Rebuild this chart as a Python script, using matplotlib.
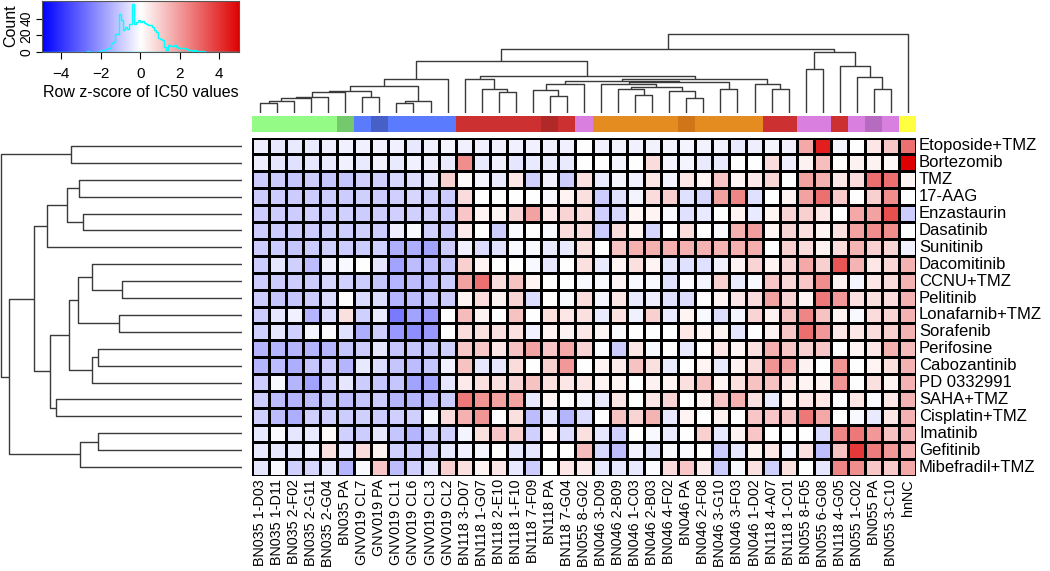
import numpy as np
import matplotlib
matplotlib.use("Agg")
import matplotlib.pyplot as plt
from matplotlib.colors import LinearSegmentedColormap

plt.rcParams['font.family'] = ['Liberation Sans', 'DejaVu Sans']

drugs = ["Etoposide+TMZ", "Bortezomib", "TMZ", "17-AAG", "Enzastaurin", "Dasatinib",
         "Sunitinib", "Dacomitinib", "CCNU+TMZ", "Pelitinib", "Lonafarnib+TMZ", "Sorafenib",
         "Perifosine", "Cabozantinib", "PD 0332991", "SAHA+TMZ", "Cisplatin+TMZ", "Imatinib",
         "Gefitinib", "Mibefradil+TMZ"]

samples = ["BN035 1-D03", "BN035 1-D11", "BN035 2-F02", "BN035 2-G11", "BN035 2-G04", "BN035 PA",
           "GNV019 CL7", "GNV019 PA", "GNV019 CL1", "GNV019 CL6", "GNV019 CL3", "GNV019 CL2",
           "BN118 3-D07", "BN118 1-G07", "BN118 2-E10", "BN118 1-F10", "BN118 7-F09", "BN118 PA",
           "BN118 7-G04", "BN055 8-G02", "BN046 3-D09", "BN046 2-B09", "BN046 1-C03", "BN046 2-B03",
           "BN046 4-F02", "BN046 PA", "BN046 2-F08", "BN046 3-G10", "BN046 3-F03", "BN046 1-D02",
           "BN118 4-A07", "BN118 1-C01", "BN055 8-F05", "BN055 6-G08", "BN118 4-G05", "BN055 1-C02",
           "BN055 PA", "BN055 3-C10", "hnNC"]

side_colors = ["#94fb87"] * 5 + ["#73c96b"] + ["#5b7bff", "#4660c8"] + ["#5b7bff"] * 4 + \
              ["#cc3030"] * 5 + ["#b02828", "#cc3030", "#d97fe0"] + ["#e58c20"] * 5 + ["#d07518"] + \
              ["#e58c20"] * 4 + ["#cc3030"] * 2 + ["#d97fe0"] * 2 + ["#cc3030", "#d97fe0", "#b56bc0", "#d97fe0", "#ffff40"]

z_etoposide = [-0.35, -0.45, -0.4, -0.4, -0.35, -0.3, -0.3, -0.3, -0.3, -0.45, -0.3, -0.2, -0.3,
               -0.3, -0.3, -0.3, -0.3, -0.3, -0.3, 0.0, -0.3, -0.25, -0.3, -0.25, -0.2,
               -0.2, -0.25, -0.25, -0.4, -0.35, -0.2, -0.3, 1.7, 4.4, -0.2, 0.0, 0.5, 1.1, 2.8]
z_bortezomib = [-0.35, -0.5, -0.6, -0.5, -0.4, -0.3, -0.4, -0.3, -0.4, -0.3, -0.35, -0.4, 2.2,
                -0.4, -0.3, -0.5, -0.4, -0.4, -0.4, 0.0, 0.0, -0.2, 0.0, 0.7, -0.2,
                -0.2, -0.4, -0.4, 0.0, 0.0, 0.7, -0.35, 0.25, 1.25, 0.0, 0.25, 0.25, 0.15, 5.0]
z_tmz = [-1.0, -1.0, -1.1, -1.0, -1.1, -1.1, -0.9, -0.9, -0.8, -0.7, -0.5, 0.9, 0.1,
         -0.2, -0.4, 0.5, -0.9, -0.3, -1.0, 0.6, -0.4, -0.2, -0.3, 0.5, -0.2,
         0.5, 0.2, 1.1, 0.2, 0.4, 0.85, 0.0, 1.8, 1.55, 0.5, 0.7, 2.85, 2.85, 0.2]
z_17aag = [-1.0, -1.0, -1.0, -1.0, -1.0, -1.0, -0.9, -1.0, -0.9, -0.8, -0.9, -1.0, 0.7,
           0.0, 0.0, 0.0, 0.0, -0.15, 0.2, 0.6, -1.0, -0.6, -0.2, 0.7, 0.9,
           -0.6, -0.8, 1.8, 2.35, -0.6, 0.0, 0.2, 1.8, 2.8, 1.05, 0.0, 0.9, 2.2, 0.0]
z_enzastaurin = [-1.0, -1.0, -1.0, -0.9, -1.0, -0.9, -1.0, -1.0, -0.9, -0.9, -0.9, -1.0, 1.1,
                 0.2, 0.2, 0.85, 1.8, 0.4, 0.85, 0.7, -0.9, -0.8, 0.2, 0.2, -0.15,
                 -0.6, -0.4, 0.0, 0.2, -0.4, 0.2, 0.85, 0.9, 0.5, 0.0, 1.7, 1.8, 3.4, -1.0]
z_dasatinib = [-1.0, -1.0, -1.0, -1.0, -0.9, -1.0, -0.9, -1.0, -0.35, -0.15, -0.9, -1.0, 0.4,
               0.0, -1.0, -0.15, 0.0, -0.15, 0.7, 0.7, -1.05, 0.7, 0.2, -0.8, 0.0,
               0.7, 0.0, -0.15, 1.55, 1.9, 0.2, 0.85, 0.6, 0.2, 0.6, 1.8, 2.2, 2.2, 0.0]
z_sunitinib = [-1.0, -1.0, -1.1, -1.0, -0.9, -1.0, -1.0, -0.9, -1.6, -1.6, -1.8, -1.0, -0.3,
               -0.7, -0.6, -0.15, -0.15, -0.4, -0.4, 0.6, 0.0, 1.2, 1.55, 1.55, 1.55,
               1.55, 1.5, 1.45, 1.55, 1.6, 0.0, 0.9, 0.7, 0.25, 0.7, 1.45, 0.9, 0.85, -0.3]
z_dacomitinib = [-1.0, -0.5, -0.9, -1.3, -0.3, -0.15, 0.0, -0.5, -1.8, -1.3, -1.3, -1.1, 0.9,
                 0.2, 0.0, 0.0, -0.15, -0.5, 0.0, 0.6, -0.4, 0.2, 0.6, 0.2, -0.5,
                 -0.6, -0.6, -0.3, 0.2, 0.85, 0.2, 0.75, 1.7, 0.9, 3.3, 1.45, 0.5, 0.75, 1.5]
z_ccnu = [-1.0, -1.0, -1.0, -1.0, -0.8, -0.9, -1.0, -1.1, -1.45, -1.3, -1.3, -1.0, 1.8,
          2.8, 0.7, 1.2, 0.2, 0.0, 0.0, -0.15, -0.15, 0.2, -0.15, -0.15, -0.6,
          -0.1, -0.2, 0.9, -0.4, -0.15, 1.1, 0.75, 1.1, 2.2, 0.25, -0.2, 0.5, 0.7, 1.5]
z_pelitinib = [-1.0, -1.1, -1.1, -1.0, -0.7, 0.0, -0.7, -0.7, -1.45, -1.3, -1.1, -1.0, 0.2,
               0.7, 0.25, 0.85, -0.7, 0.0, -0.15, 0.7, -0.2, 0.5, -0.4, -0.35, -0.6,
               -0.7, 0.0, 0.2, 0.5, 0.7, 1.8, 0.85, 0.2, 2.65, 2.0, 0.6, 0.6, 0.7, 1.5]
z_lonafarnib = [-1.0, -0.5, -0.3, -1.45, -0.7, 0.6, -0.9, -0.4, -2.6, -1.8, -2.0, 0.0, 1.3,
                0.25, 0.0, 1.2, 0.0, 0.6, 0.5, 0.6, -0.4, 0.6, -0.3, 0.9, -0.4,
                0.2, -0.15, -0.7, -0.2, 0.85, 0.25, 1.2, 2.35, 1.2, 0.25, -0.15, 0.7, 0.85, 1.5]
z_sorafenib = [-0.9, -0.5, -0.9, -0.2, -0.1, -0.6, -1.6, -1.0, -2.0, -2.2, -2.0, 0.0, 0.7,
               0.6, 0.6, 0.6, -0.3, 0.2, 0.25, 0.5, 0.2, -0.15, 0.0, 0.0, 0.0,
               0.5, 0.2, 0.2, -0.5, 0.0, 0.25, 1.1, 2.85, 2.0, 0.5, 0.5, 0.7, 0.9, 1.5]
z_perifosine = [-1.45, -1.45, -1.45, -1.45, -1.45, -1.1, -1.0, -0.5, -1.1, -1.1, -1.1, -0.9, 1.1,
                1.1, 0.5, 1.2, 1.8, 1.1, 1.7, 0.85, -0.1, -1.0, 0.5, -0.15, 0.0,
                -0.4, 0.0, 0.5, 0.2, 0.6, 1.55, 1.1, 0.9, 1.1, 0.0, 0.2, 0.5, 1.55, 1.3]
z_cabozantinib = [-1.45, -1.3, -1.6, -1.1, -1.0, -1.45, -0.45, -0.7, -1.1, -1.3, -1.1, -0.3, 1.2,
                  -0.5, -0.5, 0.7, 0.0, 0.9, 2.0, 0.0, 0.2, 0.4, 1.2, 0.6, -0.4,
                  0.0, 0.2, -0.4, 0.25, 0.7, 2.1, 1.8, 0.25, 0.0, 2.1, 0.0, 0.2, 0.6, 1.5]
z_pd0332991 = [-1.0, -0.15, -1.45, -1.8, -1.0, -0.5, -1.0, -1.1, -1.1, -1.8, -1.8, -0.5, 0.4,
               0.6, 0.6, 0.85, 1.2, 0.6, 0.5, 0.5, 0.2, 0.2, 0.0, 0.25, 0.2,
               0.6, 1.2, 0.2, 0.6, 1.2, 1.2, 0.5, 0.2, 0.2, 2.1, 0.0, 0.6, 0.2, 1.5]
z_saha = [-1.0, -1.3, -1.45, -1.3, -1.1, -1.3, -1.1, -1.0, -1.45, -1.45, -1.3, -1.0, 2.65,
          2.1, 1.8, 1.8, -0.45, 0.2, 0.0, -0.2, -0.45, 0.5, 0.0, 0.5, 0.85,
          0.0, 0.2, 1.1, 1.55, 0.6, -0.4, 0.2, 0.5, 0.5, 0.0, 0.5, -0.1, 0.5, 1.5]
z_cisplatin = [-0.9, -1.3, -1.6, -0.9, -0.9, -1.0, -0.9, -1.0, -0.9, -0.9, -0.15, 0.7, 1.55,
               2.1, 0.0, 0.6, -1.3, -0.5, -1.45, -0.7, 0.0, 1.2, 0.85, 1.45, -0.45,
               0.2, 0.0, 0.25, 0.0, 1.1, 1.1, 1.1, 2.65, 1.7, 0.0, -0.15, -0.4, 0.5, 1.5]
z_imatinib = [-0.45, -0.1, -0.5, -0.4, 0.1, -0.9, -1.0, -0.5, -1.1, -1.45, -0.9, -0.9, -0.2,
              0.6, 1.1, 0.9, -0.9, 0.2, -0.7, 0.6, -0.5, -0.9, 0.0, -0.15, -0.4,
              0.0, 0.9, -0.45, 0.25, 1.1, 0.0, 0.0, 0.0, -0.7, 2.35, 2.65, 2.0, 1.2, 1.5]
z_gefitinib = [-0.45, -0.5, -0.45, -0.3, 0.6, -0.5, 0.7, 0.25, -0.9, -1.0, -0.9, -0.45, -0.3,
               -0.2, 0.0, -0.45, -0.5, 0.0, 0.0, 1.3, -0.8, -1.3, -0.3, -0.5, -0.15,
               -0.15, 0.0, -1.0, -0.5, 0.25, 0.5, -0.2, 0.6, -1.3, 1.2, 3.9, 2.55, 2.0, 1.5]
z_mibefradil = [-0.5, -0.15, -0.9, -0.8, -0.5, -1.45, -0.15, 1.1, -1.3, -0.9, -0.5, 0.9, 0.6,
                0.2, 0.5, -0.45, -1.0, 0.0, 0.5, 0.4, -0.45, -0.5, -0.45, -0.1, 0.7,
                1.1, 0.4, -1.0, -0.15, 0.6, -0.9, 0.6, 0.0, -0.5, 2.35, 2.2, 1.1, 1.05, 1.7]

# dendrograms: (left child, right child, merge height); leaves 0..n-1, new clusters n, n+1, ...
row_merges = [(0, 1, 171), (2, 3, 163), (4, 5, 159), (21, 22, 175), (23, 6, 195),
              (8, 9, 120), (7, 25, 150), (10, 11, 123), (26, 27, 164), (12, 13, 144),
              (29, 14, 150), (28, 30, 173), (15, 16, 186), (31, 32, 192), (24, 33, 208),
              (17, 18, 144), (35, 19, 162), (34, 36, 233), (20, 37, 241)]
col_merges = [(0, 1, 10.6), (39, 2, 12.6), (40, 3, 15.0), (41, 4, 16.6), (42, 5, 21.6),
              (6, 7, 16.6), (43, 44, 22.6), (8, 9, 10.0), (46, 10, 12.0), (45, 47, 27.6),
              (48, 11, 34.0), (14, 15, 21.6), (13, 50, 24.0), (12, 51, 34.3), (17, 18, 17.3),
              (16, 53, 23.3), (54, 19, 29.0), (22, 23, 18.0), (21, 56, 24.0), (25, 26, 15.0),
              (24, 58, 22.6), (57, 59, 26.6), (20, 60, 29.0), (27, 28, 24.0), (61, 62, 31.0),
              (55, 63, 32.3), (30, 31, 24.0), (29, 65, 29.3), (64, 66, 34.0), (52, 67, 37.5),
              (49, 68, 52.3), (32, 33, 44.0), (36, 37, 24.6), (35, 71, 36.6), (34, 72, 47.6),
              (70, 73, 61.0), (69, 74, 64.0), (75, 38, 79.0)]

hist_start = -2.7
hist_width = 0.1
hist_counts = [1, 0, 0, 0, 0, 0, 1, 2, 2, 3, 4, 4, 10, 12, 22, 22, 46, 38, 26, 30, 28, 34, 34,
               58, 34, 36, 38, 36, 37, 35, 33, 32, 32, 30, 26, 24, 16, 15, 14, 6, 2, 8, 7, 7,
               8, 6, 5, 5, 4, 4, 3, 2, 2, 1, 2, 1, 1, 1, 0, 1, 0]

zscores = np.array([z_etoposide, z_bortezomib, z_tmz, z_17aag, z_enzastaurin, z_dasatinib,
                    z_sunitinib, z_dacomitinib, z_ccnu, z_pelitinib, z_lonafarnib, z_sorafenib,
                    z_perifosine, z_cabozantinib, z_pd0332991, z_saha, z_cisplatin, z_imatinib,
                    z_gefitinib, z_mibefradil])

W, H = 1050, 571
fig = plt.figure(figsize=(W / 100, H / 100), dpi=100)


def ax_px(x0, y0, x1, y1):
    return fig.add_axes([x0 / W, 1 - y1 / H, (x1 - x0) / W, (y1 - y0) / H])


cmap = LinearSegmentedColormap.from_list("bluered", [(0.0, 0.0, 1.0), (1, 1, 1), (0.87, 0.0, 0.0)], N=256)

HX0, HX1, HY0, HY1 = 251.5, 916.5, 137.5, 475.5
nr, nc = zscores.shape

# heatmap
ax = ax_px(HX0, HY0, HX1, HY1)
ax.pcolormesh(np.arange(nc + 1), np.arange(nr + 1), zscores, cmap=cmap, vmin=-5, vmax=5,
              edgecolors="black", linewidth=0.9)
ax.set_xlim(0, nc)
ax.set_ylim(nr, 0)
ax.axis("off")
for i, d in enumerate(drugs):
    ax.text(nc + 0.15, i + 0.5, d, ha="left", va="center", fontsize=12, clip_on=False)
for j, s in enumerate(samples):
    ax.text(j + 0.5, nr + 0.22, s, ha="center", va="top", rotation=90, fontsize=10.4, clip_on=False)

# column side colours
axc = ax_px(HX0, 116, HX1, 132)
axc.bar(np.arange(nc), 1, width=1, align="edge", color=side_colors, linewidth=0)
axc.set_xlim(0, nc)
axc.set_ylim(0, 1)
axc.axis("off")


def dendro_segments(merges, n):
    pos = {i: i + 0.5 for i in range(n)}
    hgt = {i: 0.0 for i in range(n)}
    segs = []
    for k, (a, b, h) in enumerate(merges):
        segs.append(([pos[a], pos[a], pos[b], pos[b]], [hgt[a], h, h, hgt[b]]))
        pos[n + k] = (pos[a] + pos[b]) / 2
        hgt[n + k] = h
    return segs


dcol = "#3a3a3a"
# column dendrogram
axd = ax_px(HX0, 30, HX1, 113.3)
for xs, hs in dendro_segments(col_merges, nc):
    axd.plot(xs, hs, color=dcol, lw=1.0, solid_capstyle="butt")
axd.set_xlim(0, nc)
axd.set_ylim(0, 83.3)
axd.axis("off")

# row dendrogram
axr = ax_px(0, HY0, 242.3, HY1)
for ys, hs in dendro_segments(row_merges, nr):
    axr.plot(hs, ys, color=dcol, lw=1.0, solid_capstyle="butt")
axr.set_ylim(nr, 0)
axr.set_xlim(242.3, 0)
axr.axis("off")

# colour key with histogram
axk = ax_px(41.7, 0.5, 239, 51.7)
grad = np.linspace(-5, 5, 256).reshape(1, -1)
axk.imshow(grad, cmap=cmap, vmin=-5, vmax=5, aspect="auto", extent=(-5, 5, 0, 62))
edges = hist_start + hist_width * np.arange(len(hist_counts) + 1)
axk.plot([-5, 5], [0, 0], color="cyan", lw=1.0)
axk.stairs(hist_counts, edges, color="cyan", lw=1.0)
axk.set_xlim(-5, 5)
axk.set_ylim(0, 62)
axk.set_xticks([-4, -2, 0, 2, 4])
axk.set_yticks([0, 20, 40])
axk.set_yticklabels(["0", "20", "40"], rotation=90, va="center")
axk.tick_params(axis="x", labelsize=11, length=5, width=0.8, pad=6)
axk.tick_params(axis="y", labelsize=10, length=4, width=0.8, pad=2)
axk.set_xlabel("Row z-score of IC50 values", fontsize=11.5, labelpad=3)
axk.set_ylabel("Count", fontsize=11.5, labelpad=1)
for sp in axk.spines.values():
    sp.set_linewidth(0.8)
    sp.set_color("#555555")

fig.savefig("out.png", dpi=100)
